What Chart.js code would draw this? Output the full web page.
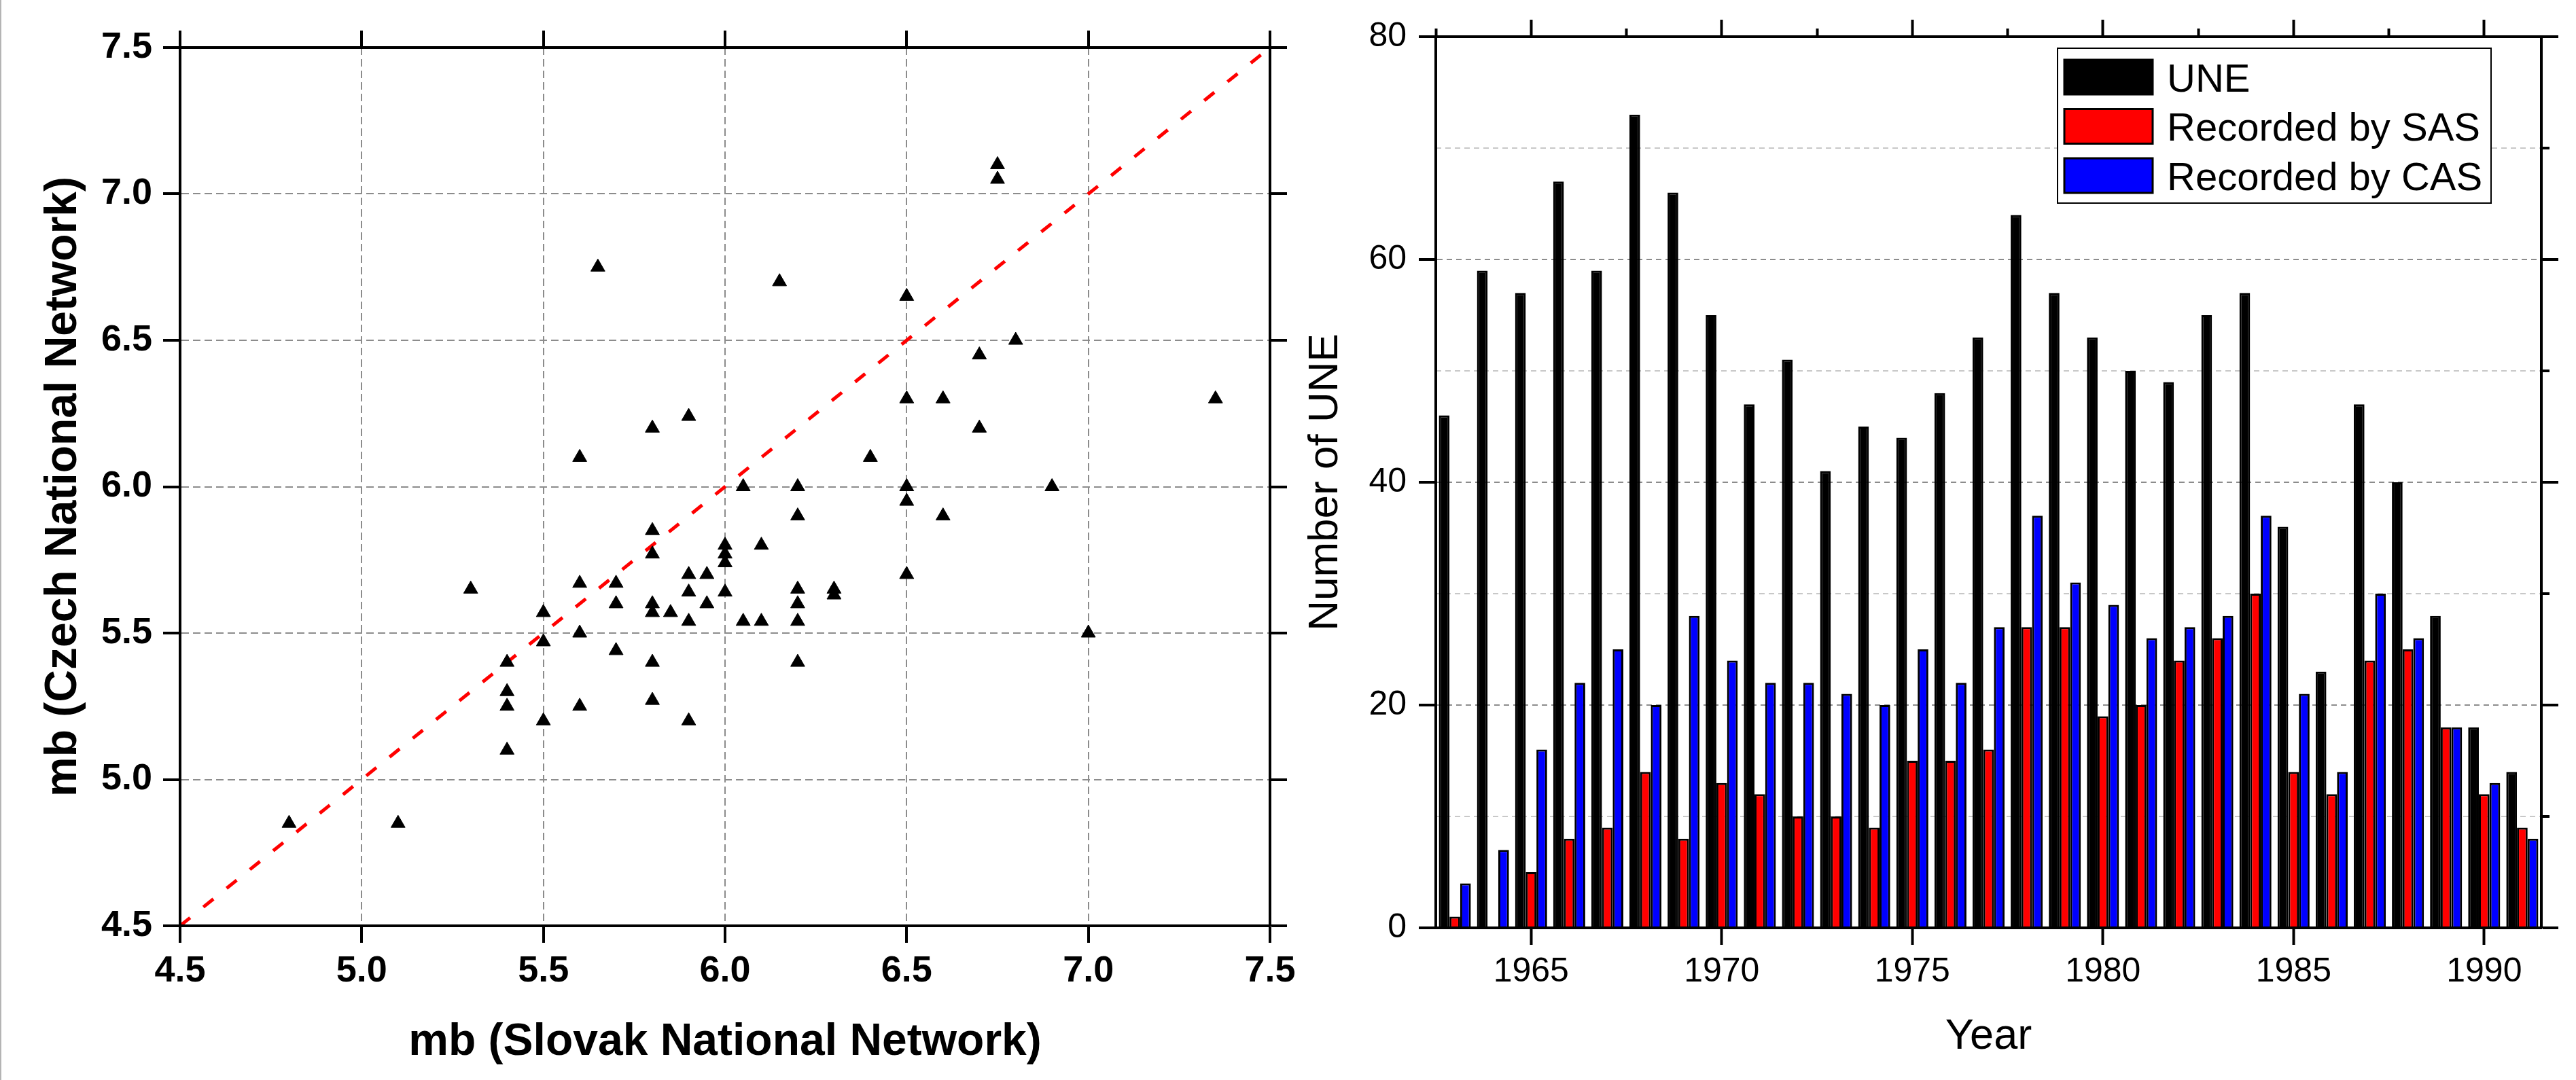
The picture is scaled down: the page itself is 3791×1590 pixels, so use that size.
<!DOCTYPE html>
<html>
<head>
<meta charset="utf-8">
<title>mb comparison and UNE per year</title>
<script src="https://cdn.jsdelivr.net/npm/chart.js@4.4.0/dist/chart.umd.min.js"></script>
<style>
  html, body { margin: 0; padding: 0; background: #fff; }
  #page { position: relative; width: 3791px; height: 1590px; overflow: hidden; background: #fff; }
  #edge { position: absolute; left: 0; top: 0; width: 2px; height: 1590px; background: #b4b4b4; }
  #scatterChart { position: absolute; left: 0; top: 0; }
  #barChart { position: absolute; left: 1900px; top: 0; }
</style>
</head>
<body>
<div id="page">
  <div id="edge"></div>
  <canvas id="scatterChart" width="1950" height="1590"></canvas>
  <canvas id="barChart" width="1891" height="1590"></canvas>
</div>
<script>
// left panel: mb of the same events from the two networks
const slovakMb = [6.75, 6.75, 5.65, 6.15, 6.5, 6.8, 6.7, 6.5, 6.6, 7.35, 5.9, 5.8, 6.7, 5.6, 6.4, 6.05, 6.2, 6.5, 6.9, 6.5,
  6.2, 6.6, 5.8, 6.0, 6.1, 5.8, 6.0, 6.0, 5.9, 5.95, 6.5, 5.3, 5.6, 5.7, 6.2, 6.3, 6.3, 5.9, 6.0, 5.7,
  5.8, 5.95, 6.2, 5.5, 5.8, 5.85, 5.9, 6.05, 6.1, 6.2, 5.6, 7.0, 5.5, 5.7, 5.4, 5.8, 6.2, 5.4, 5.8, 5.4,
  5.6, 5.5, 5.9, 5.4, 4.8, 5.1];
const czechMb = [7.1, 7.05, 6.75, 6.7, 6.65, 6.5, 6.45, 6.3, 6.3, 6.3, 6.24, 6.2, 6.2, 6.1, 6.1, 6.0, 6.0, 6.0, 6.0, 5.95,
  5.9, 5.9, 5.85, 5.8, 5.8, 5.77, 5.77, 5.74, 5.7, 5.7, 5.7, 5.65, 5.67, 5.67, 5.65, 5.65, 5.63, 5.64, 5.64, 5.6,
  5.6, 5.6, 5.6, 5.57, 5.57, 5.57, 5.54, 5.54, 5.54, 5.54, 5.5, 5.5, 5.47, 5.44, 5.4, 5.4, 5.4, 5.3, 5.27, 5.25,
  5.25, 5.2, 5.2, 5.1, 4.85, 4.85];
const mbTicks = [4.5, 5.0, 5.5, 6.0, 6.5, 7.0, 7.5];
const equalLineX = [4.5, 7.5];
const equalLineY = [4.5, 7.5];

// right panel: UNE per year
const years = [1963, 1964, 1965, 1966, 1967, 1968, 1969, 1970, 1971, 1972, 1973, 1974, 1975, 1976, 1977,
  1978, 1979, 1980, 1981, 1982, 1983, 1984, 1985, 1986, 1987, 1988, 1989, 1990, 1991];
const uneCount = [46, 59, 57, 67, 59, 73, 66, 55, 47, 51, 41, 45, 44, 48, 53, 64, 57, 53, 50, 49, 55, 57, 36, 23, 47, 40, 28, 18, 14];
const sasCount = [1, 0, 5, 8, 9, 14, 8, 13, 12, 10, 10, 9, 15, 15, 16, 27, 27, 19, 20, 24, 26, 30, 14, 12, 24, 25, 18, 12, 9];
const casCount = [4, 7, 16, 22, 25, 20, 28, 24, 22, 22, 21, 20, 25, 22, 27, 37, 31, 29, 26, 27, 28, 37, 21, 14, 30, 26, 18, 13, 8];
const yearTicks = [1965, 1970, 1975, 1980, 1985, 1990];
const yearMinorTicks = [1962.5, 1967.5, 1972.5, 1977.5, 1982.5, 1987.5];
const countTicks = [0, 20, 40, 60, 80];
const countMinorTicks = [10, 30, 50, 70];

const FONT = "'Liberation Sans', Arial, Helvetica, sans-serif";
Chart.defaults.font.family = FONT;
Chart.defaults.color = '#000';

function useTicks(values) {
  return scale => { scale.ticks = values.map(value => ({ value })); };
}
function setWidth(w) { return scale => { scale.width = w; }; }
function setHeight(h) { return scale => { scale.height = h; }; }

// ---------- scatter ----------
const mbGrid = { color: '#8c8c8c', lineWidth: 2, tickLength: 25, tickWidth: 4, tickColor: '#000' };
const mbBorder = { color: '#000', width: 4, dash: [11, 6], z: 1 };
const mbLabels = { font: { size: 54, weight: 'bold' }, padding: 10, autoSkip: false, maxRotation: 0,
  callback: v => Number(v).toFixed(1) };

function mbAxis(position, extra) {
  return Object.assign({
    type: 'linear', position, min: 4.5, max: 7.5,
    afterBuildTicks: useTicks(mbTicks),
    grid: mbGrid, border: mbBorder, ticks: { display: false }
  }, extra);
}

new Chart(document.getElementById('scatterChart'), {
  type: 'scatter',
  data: {
    datasets: [
      {
        label: 'events',
        data: slovakMb.map((x, i) => ({ x, y: czechMb[i] })),
        xAxisID: 'xB', yAxisID: 'yL',
        pointStyle: 'triangle',
        pointRadius: 12,
        pointBackgroundColor: '#000',
        pointBorderColor: '#000',
        pointBorderWidth: 1
      },
      {
        type: 'line',
        label: 'y = x',
        data: equalLineX.map((x, i) => ({ x, y: equalLineY[i] })),
        xAxisID: 'xB', yAxisID: 'yL',
        borderColor: '#ff0000',
        borderWidth: 5,
        borderDash: [19, 25],
        pointRadius: 0,
        fill: false
      }
    ]
  },
  options: {
    responsive: false,
    animation: false,
    events: [],
    layout: { padding: { left: 0, top: 70, right: 81, bottom: 0 } },
    plugins: { legend: { display: false }, tooltip: { enabled: false } },
    scales: {
      xB: mbAxis('bottom', {
        afterFit: setHeight(227),
        ticks: mbLabels,
        title: { display: true, text: 'mb (Slovak National Network)', font: { size: 66, weight: 'bold' },
          padding: { top: 0, bottom: 16 } }
      }),
      xT: mbAxis('top', { afterFit: setHeight(0), grid: Object.assign({}, mbGrid, { drawOnChartArea: false }) }),
      yL: mbAxis('left', {
        afterFit: setWidth(265),
        ticks: Object.assign({}, mbLabels, { padding: 16 }),
        title: { display: true, text: 'mb (Czech National Network)', font: { size: 66, weight: 'bold' },
          padding: { top: 54, bottom: 0 } }
      }),
      yR: mbAxis('right', { afterFit: setWidth(0), grid: Object.assign({}, mbGrid, { drawOnChartArea: false }) })
    }
  }
});

// ---------- bars ----------
const barLegend = {
  id: 'barLegend',
  afterDraw(chart) {
    const { ctx, chartArea } = chart;
    const left = chartArea.right - 712;
    const top = chartArea.top + 17;
    ctx.save();
    ctx.fillStyle = '#fff';
    ctx.fillRect(left, top, 638, 228);
    ctx.lineWidth = 2;
    ctx.strokeStyle = '#000';
    ctx.strokeRect(left, top, 638, 228);
    ctx.font = '58px ' + FONT;
    ctx.textBaseline = 'alphabetic';
    chart.data.datasets.forEach((ds, i) => {
      const cy = top + 42.5 + i * 72.5;
      ctx.fillStyle = ds.backgroundColor;
      ctx.fillRect(left + 10, cy - 25.5, 130, 51);
      ctx.lineWidth = 3;
      ctx.strokeRect(left + 10, cy - 25.5, 130, 51);
      ctx.fillStyle = '#000';
      ctx.fillText(ds.label, left + 161, cy + 21);
    });
    ctx.restore();
  }
};

function yearAxis(position, ticks, tickLength, extra) {
  return Object.assign({
    type: 'linear', position, min: 1962.5, max: 1991.5, offset: false,
    afterBuildTicks: useTicks(ticks),
    grid: { offset: false, drawOnChartArea: false, tickLength, tickWidth: 4, tickColor: '#000' },
    border: { color: '#000', width: 4, z: 1 },
    ticks: { display: false }
  }, extra);
}

const countLabels = { font: { size: 50 }, padding: 18, autoSkip: false, callback: v => String(v) };

function countAxis(position, ticks, tickLength, gridColor, onArea, extra) {
  return Object.assign({
    type: 'linear', position, min: 0, max: 80,
    afterBuildTicks: useTicks(ticks),
    grid: { color: gridColor, lineWidth: 2, drawOnChartArea: onArea, tickLength, tickWidth: 4, tickColor: '#000' },
    border: { color: '#000', width: 4, dash: [8, 6], z: 1 },
    ticks: { display: false }
  }, extra);
}

new Chart(document.getElementById('barChart'), {
  type: 'bar',
  data: {
    labels: years,
    datasets: [
      { label: 'UNE', data: uneCount, backgroundColor: '#000000', borderColor: '#000', xAxisID: 'x', yAxisID: 'yL' },
      { label: 'Recorded by SAS', data: sasCount, backgroundColor: '#ff0000', borderColor: '#000', xAxisID: 'x', yAxisID: 'yL' },
      { label: 'Recorded by CAS', data: casCount, backgroundColor: '#0000ff', borderColor: '#000', xAxisID: 'x', yAxisID: 'yL' }
    ]
  },
  options: {
    responsive: false,
    animation: false,
    events: [],
    layout: { padding: { left: 0, top: 54, right: 51, bottom: 0 } },
    datasets: { bar: { categoryPercentage: 0.84, barPercentage: 1.0, borderWidth: 3, borderSkipped: 'start' } },
    plugins: { legend: { display: false }, tooltip: { enabled: false } },
    scales: {
      x: { type: 'category', display: false, offset: true },
      xB: yearAxis('bottom', yearTicks, 25, {
        afterFit: setHeight(224),
        ticks: { font: { size: 50 }, padding: 10, autoSkip: false, maxRotation: 0, callback: v => String(v) },
        title: { display: true, text: 'Year', font: { size: 63 }, padding: { top: 0, bottom: 26 } }
      }),
      xBm: yearAxis('bottom', yearMinorTicks, 12, { afterFit: setHeight(0), border: { display: false } }),
      xT: yearAxis('top', yearTicks, 25, { afterFit: setHeight(0) }),
      xTm: yearAxis('top', yearMinorTicks, 12, { afterFit: setHeight(0), border: { display: false } }),
      yL: countAxis('left', countTicks, 25, '#8c8c8c', true, {
        afterFit: setWidth(213),
        ticks: countLabels,
        title: { display: true, text: 'Number of UNE', font: { size: 62 }, padding: { top: 14, bottom: 0 } }
      }),
      yLm: countAxis('left', countMinorTicks, 12, '#c8c8c8', true, {
        afterFit: setWidth(0), border: { display: false, dash: [8, 6] }
      }),
      yR: countAxis('right', countTicks, 25, '#8c8c8c', false, { afterFit: setWidth(0) }),
      yRm: countAxis('right', countMinorTicks, 12, '#c8c8c8', false, {
        afterFit: setWidth(0), border: { display: false }
      })
    }
  },
  plugins: [barLegend]
});
</script>
</body>
</html>
